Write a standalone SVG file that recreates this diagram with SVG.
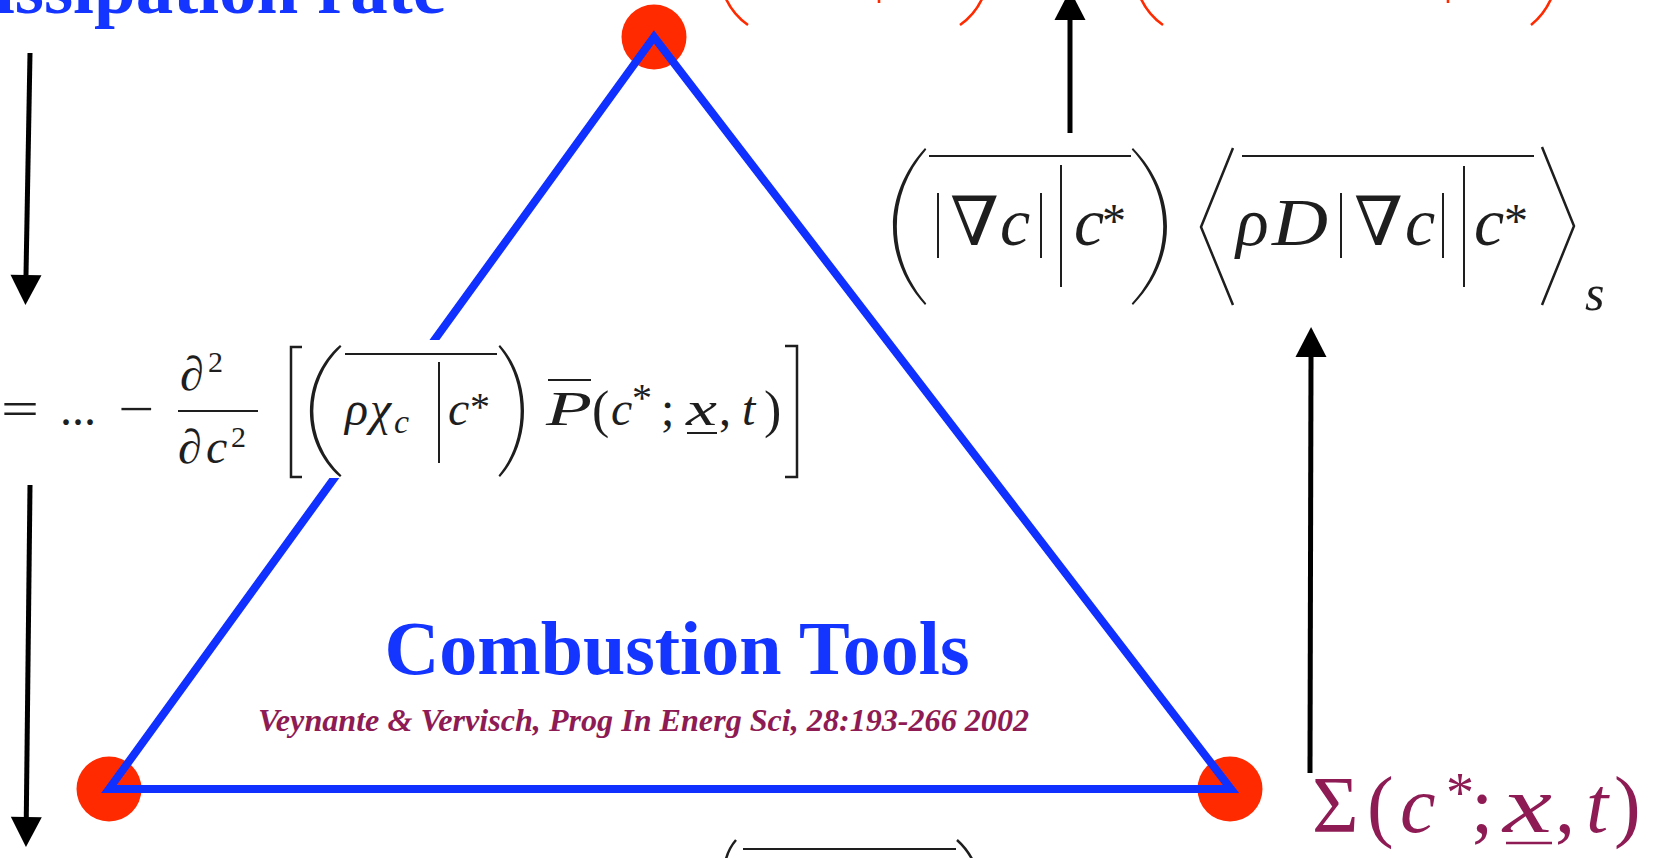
<svg xmlns="http://www.w3.org/2000/svg" width="1663" height="858" viewBox="0 0 1663 858">
<defs>
<style>
.bg{fill:#ffffff}
.blue{fill:#1434ff}
.tri{fill:none;stroke:#1030ff;stroke-width:8;stroke-linejoin:miter}
.dot{fill:#ff2a00}
.arrow{stroke:#000;stroke-width:5;fill:none}
.m{font-family:"Liberation Serif","DejaVu Serif",serif;fill:#1e1e1e}
.i{font-style:italic}
.u{font-style:normal}
.ln{stroke:#1e1e1e;stroke-width:2;fill:none}
.dl{stroke:#1e1e1e;stroke-width:2.5;fill:none;stroke-linejoin:miter}
.fl{fill:#1e1e1e}
.red{stroke:#ff2a00;stroke-width:2.6;fill:none}
.pur{fill:#8e1b54}
.pl{stroke:#8e1b54;stroke-width:2.5}
.title{font-family:"Liberation Serif",serif;font-weight:bold}
</style>
<marker id="ah" markerUnits="userSpaceOnUse" markerWidth="32" markerHeight="32" viewBox="0 -16 30 32" refX="0" refY="0" orient="auto">
<path d="M0,-15.5 L30,0 L0,15.5 Z" fill="#000"/>
</marker>
</defs>
<rect class="bg" x="0" y="0" width="1663" height="858"/>

<g id="dissipation-label">
<text class="title blue" x="446" y="13" font-size="75" text-anchor="end">Dissipation rate</text>
</g>

<g id="top-red-formula">
<path class="red" d="M724,-6 Q731,13 748,25"/>
<path class="red" d="M879,-5 L879,3"/>
<path class="red" d="M984,-6 Q977,13 960,25"/>
<path class="red" d="M1139,-6 Q1146,13 1163,25"/>
<path class="red" d="M1448,-5 L1448,3"/>
<path class="red" d="M1553,-6 Q1546,13 1531,25"/>
</g>

<g id="vertex-top"><circle class="dot" cx="654" cy="37" r="32.5"/></g>
<g id="vertex-left"><circle class="dot" cx="109" cy="789" r="32.5"/></g>
<g id="vertex-right"><circle class="dot" cx="1230" cy="789" r="32.5"/></g>

<g id="connectors">
<polygon class="tri" points="654,37 1231,789 109,789"/>
<line class="arrow" x1="30" y1="53" x2="26" y2="275" marker-end="url(#ah)"/>
<line class="arrow" x1="30" y1="485" x2="26.3" y2="817" marker-end="url(#ah)"/>
<line class="arrow" x1="1070" y1="133" x2="1070" y2="20" marker-end="url(#ah)"/>
<line class="arrow" x1="1310" y1="773" x2="1311" y2="357" marker-end="url(#ah)"/>
</g>

<g id="left-formula">
<rect class="bg" x="0" y="340" width="805" height="138"/>
<text class="m" font-size="48" y="425"><tspan x="1" textLength="38" lengthAdjust="spacingAndGlyphs">=</tspan><tspan x="60">...</tspan><tspan x="118" textLength="36" lengthAdjust="spacingAndGlyphs">−</tspan></text>
<text class="m" font-size="48" x="180" y="390">∂<tspan x="208" y="372" font-size="30">2</tspan></text>
<line class="ln" x1="178" y1="411" x2="258" y2="411"/>
<text class="m" font-size="48" x="178" y="463">∂<tspan class="i" x="206">c</tspan><tspan x="231" y="447" font-size="30">2</tspan></text>
<path class="dl" d="M302,347 L291,347 L291,477 L302,477"/>
<path class="fl" d="M340,345 C300,380 300,442 340,477 L341.5,475.5 C304,440 304,382 341.5,346.5 Z"/>
<line class="ln" x1="345" y1="354" x2="497" y2="354"/>
<text class="m i" font-size="48" x="345" y="425">ρ<tspan x="370">χ</tspan><tspan x="394" y="433" font-size="34">c</tspan></text>
<line class="ln" x1="439" y1="362" x2="439" y2="463"/>
<text class="m i" font-size="48" x="448" y="425">c<tspan class="u" x="470" y="420" font-size="40">*</tspan></text>
<path class="fl" d="M500,345 C532,380 532,442 500,477 L498.5,475.5 C528,440 528,382 498.5,346.5 Z"/>
<line class="ln" x1="548" y1="380" x2="591" y2="380"/>
<text class="m i" font-size="48" x="546" y="425"><tspan textLength="46" lengthAdjust="spacingAndGlyphs">P</tspan><tspan class="u" x="592" y="427" font-size="52">(</tspan><tspan x="611" y="425">c</tspan><tspan class="u" x="632" y="411" font-size="40">*</tspan><tspan class="u" x="661" y="425">;</tspan><tspan x="686" textLength="31" lengthAdjust="spacingAndGlyphs">x</tspan><tspan class="u" x="719">,</tspan><tspan x="742">t</tspan><tspan class="u" x="764" y="427" font-size="52">)</tspan></text>
<line class="ln" x1="687" y1="433" x2="717" y2="433"/>
<path class="dl" d="M785,346 L797,346 L797,477 L785,477"/>
</g>

<g id="right-formula">
<path class="fl" d="M925,148 C882.3,195 882.3,258 925,305 L926.3,303.5 C887,258 887,195 926.3,149.5 Z"/>
<line class="ln" x1="929" y1="156" x2="1131" y2="156"/>
<line class="ln" x1="938" y1="193" x2="938" y2="258"/>
<text class="m" font-size="68" x="950" y="245"><tspan textLength="49" lengthAdjust="spacingAndGlyphs">∇</tspan><tspan class="i" x="1000">c</tspan></text>
<line class="ln" x1="1041" y1="193" x2="1041" y2="258"/>
<line class="ln" x1="1061" y1="165" x2="1061" y2="287"/>
<text class="m i" font-size="68" x="1074" y="245">c<tspan class="u" x="1102" y="237" font-size="48">*</tspan></text>
<path class="fl" d="M1133,148 C1178.3,195 1178.3,258 1133,305 L1131.7,303.5 C1173.7,258 1173.7,195 1131.7,149.5 Z"/>
<polyline class="dl" points="1233,148 1201,227 1233,305"/>
<line class="ln" x1="1242" y1="156" x2="1534" y2="156"/>
<text class="m i" font-size="68" x="1236" y="245">ρ<tspan x="1272" textLength="56" lengthAdjust="spacingAndGlyphs">D</tspan></text>
<line class="ln" x1="1341" y1="193" x2="1341" y2="258"/>
<text class="m" font-size="68" x="1354" y="245"><tspan textLength="49" lengthAdjust="spacingAndGlyphs">∇</tspan><tspan class="i" x="1405">c</tspan></text>
<line class="ln" x1="1443" y1="193" x2="1443" y2="258"/>
<line class="ln" x1="1464" y1="166" x2="1464" y2="287"/>
<text class="m i" font-size="68" x="1474" y="245">c<tspan class="u" x="1504" y="237" font-size="48">*</tspan></text>
<polyline class="dl" points="1542,147 1574,226 1542,305"/>
<text class="m i" font-size="50" x="1585" y="310">s</text>
</g>

<g id="combustion-tools">
<text class="title blue" x="677" y="674" font-size="76" text-anchor="middle">Combustion Tools</text>
<text class="title pur" x="258" y="731" font-size="31" font-style="italic" textLength="771" lengthAdjust="spacingAndGlyphs">Veynante &amp; Vervisch, Prog In Energ Sci, 28:193-266 2002</text>
</g>

<g id="sigma-formula">
<text class="m pur" font-size="80" x="1312" y="832">Σ<tspan x="1367">(</tspan><tspan class="i" x="1400">c</tspan><tspan x="1446" y="812" font-size="56">*</tspan><tspan x="1471" y="832">;</tspan><tspan class="i" x="1503" textLength="49" lengthAdjust="spacingAndGlyphs">x</tspan><tspan x="1555">,</tspan><tspan class="i" x="1586">t</tspan><tspan x="1614">)</tspan></text>
<line class="pl" x1="1506" y1="843" x2="1552" y2="843"/>
</g>

<g id="bottom-formula">
<path class="dl" d="M736,840 Q729,848 726,859"/>
<line class="ln" x1="743" y1="849" x2="956" y2="849"/>
<path class="dl" d="M957,840 Q966,848 972,859"/>
</g>
</svg>
